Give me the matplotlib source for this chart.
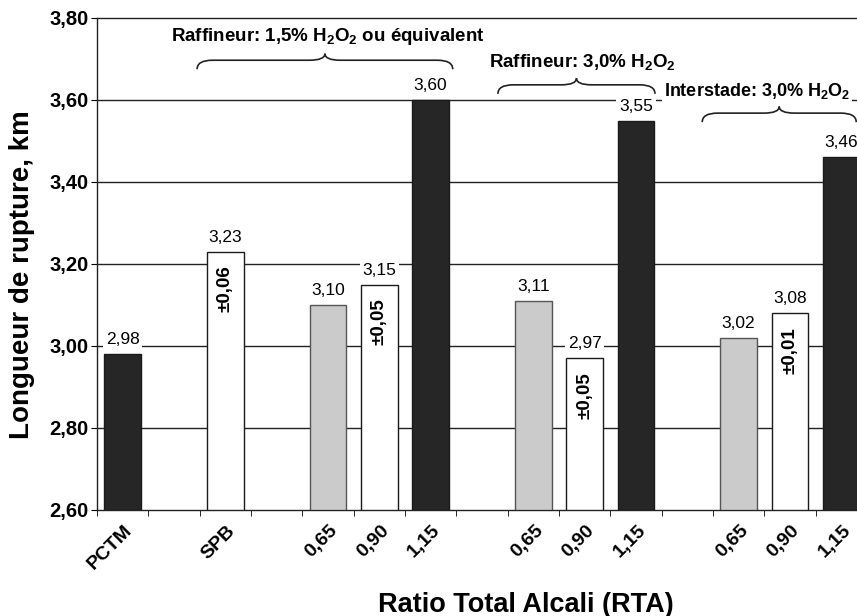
import numpy as np
import matplotlib
matplotlib.use('Agg')
import matplotlib.pyplot as plt
from matplotlib.path import Path
from matplotlib.patches import PathPatch
import matplotlib.transforms as mtransforms

plt.rcParams['font.family'] = ['Liberation Sans', 'DejaVu Sans']
plt.rcParams['mathtext.fontset'] = 'custom'
plt.rcParams['mathtext.rm'] = 'Liberation Sans:bold'
plt.rcParams['mathtext.default'] = 'rm'

# données
etiquettes = ['PCTM', '', 'SPB', '', '0,65', '0,90', '1,15', '',
              '0,65', '0,90', '1,15', '', '0,65', '0,90', '1,15']
valeurs = [2.98, np.nan, 3.23, np.nan, 3.10, 3.15, 3.60, np.nan,
           3.11, 2.97, 3.55, np.nan, 3.02, 3.08, 3.46]
types = ['noir', None, 'blanc', None, 'gris', 'blanc', 'noir', None,
         'gris', 'blanc', 'noir', None, 'gris', 'blanc', 'noir']
ecarts = {2: '±0,06', 5: '±0,05', 9: '±0,05', 13: '±0,01'}
groupes = [r'Raffineur: 1,5% H$_2$O$_2$ ou équivalent',
           r'Raffineur: 3,0% H$_2$O$_2$',
           r'Interstade: 3,0% H$_2$O$_2$']

couleurs = {'noir': '#262626', 'blanc': 'white', 'gris': '#cbcbcb'}
bords = {'noir': '#1a1a1a', 'blanc': '#1a1a1a', 'gris': '#555555'}

fig = plt.figure(figsize=(8.57, 6.16), dpi=100)
ax = fig.add_axes([97/857, 106/616, 770/857, 492/616])

x = np.arange(len(valeurs))
for i, (v, t) in enumerate(zip(valeurs, types)):
    if t is None:
        continue
    ax.bar(i, v - 2.6, bottom=2.6, width=0.72, color=couleurs[t],
           edgecolor=bords[t], linewidth=1.0, zorder=3)
    ax.annotate(f'{v:.2f}'.replace('.', ','), xy=(i, v), xytext=(0, 5),
                textcoords='offset points', ha='center', va='bottom',
                fontsize=12.5, zorder=4,
                bbox=dict(boxstyle='square,pad=0.15', fc='white', ec='none'))

for i, txt in ecarts.items():
    ax.annotate(txt, xy=(i, valeurs[i]), xytext=(0, -10),
                textcoords='offset points', ha='center', va='top',
                rotation=90, fontsize=13.5, fontweight='bold', zorder=4)

ax.set_xlim(-0.5, 14.5)
ax.set_ylim(2.6, 3.8)
yt = np.arange(2.6, 3.81, 0.2)
ax.set_yticks(yt)
ax.set_yticklabels([f'{t:.2f}'.replace('.', ',') for t in yt],
                   fontsize=14.5, fontweight='bold')
ax.set_xticks(x)
ax.set_xticklabels(etiquettes, rotation=45, ha='right', va='center',
                   rotation_mode='anchor', fontsize=14, fontweight='bold')
ax.set_xticks(np.arange(-0.5, 15, 1), minor=True)
ax.tick_params(axis='x', which='major', length=0, pad=13)
ax.tick_params(axis='x', which='minor', length=4, direction='out')
ax.tick_params(axis='y', length=4, direction='out', pad=2)
decal = mtransforms.ScaledTranslation(7/100, 0, fig.dpi_scale_trans)
for lab in ax.get_xticklabels():
    lab.set_transform(lab.get_transform() + decal)

for y in yt[1:-1]:
    ax.axhline(y, color='#222222', linewidth=1.0, zorder=1)

for s in ['left', 'bottom', 'top']:
    ax.spines[s].set_linewidth(1.0)
    ax.spines[s].set_color('#222222')
ax.spines['right'].set_visible(False)

ax.set_ylabel('Longueur de rupture, km', fontsize=20, fontweight='bold')
ax.yaxis.set_label_coords(-0.0805, 0.478)
ax.set_xlabel('Ratio Total Alcali (RTA)', fontsize=19.5, fontweight='bold')
ax.xaxis.set_label_coords(0.557, -0.166)


def accolade(x0, x1, y, d, d2, r):
    xm = (x0 + x1) / 2
    verts = [(x0, y - d), (x0, y), (x0 + r, y), (xm - r, y), (xm, y), (xm, y + d2),
             (xm, y), (xm + r, y), (x1 - r, y), (x1, y), (x1, y - d)]
    codes = [Path.MOVETO, Path.CURVE3, Path.CURVE3, Path.LINETO, Path.CURVE3, Path.CURVE3,
             Path.CURVE3, Path.CURVE3, Path.LINETO, Path.CURVE3, Path.CURVE3]
    ax.add_patch(PathPatch(Path(verts, codes), fc='none', ec='#222222',
                           lw=1.2, clip_on=False, zorder=5))
    return xm


accolades = [(1.45, 6.43, 3.697, 4.0, 3.754, 'center', 13.5),
             (7.31, 10.37, 3.637, 8.95, 3.693, 'center', 13.5),
             (11.29, 14.29, 3.568, 10.55, 3.622, 'left', 13)]
for (x0, x1, y, tx, ty, ha, fs), txt in zip(accolades, groupes):
    accolade(x0, x1, y, 0.022, 0.016, 0.3)
    ax.text(tx, ty, txt, ha=ha, va='center', fontsize=fs,
            fontweight='bold', zorder=6, clip_on=False,
            bbox=dict(boxstyle='square,pad=0.1', fc='white', ec='none'))

fig.savefig('out.png', dpi=100)
